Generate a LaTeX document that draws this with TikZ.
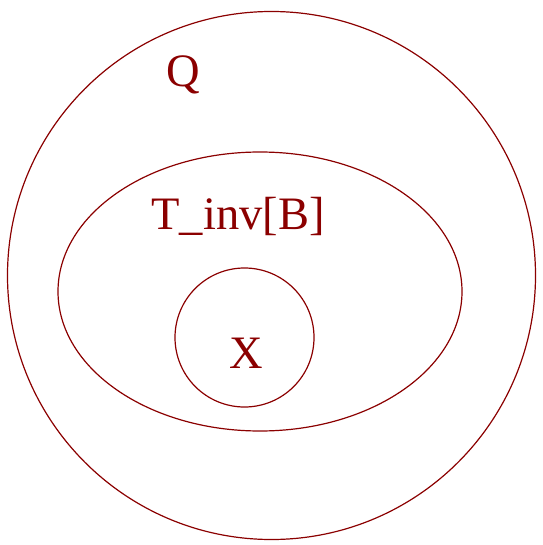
\documentclass[tikz,border=0pt]{standalone}
\usepackage{fontspec}
\setmainfont{Liberation Serif}
\usetikzlibrary{shapes.geometric}
\definecolor{dred}{HTML}{8B0000}
\begin{document}
\begin{tikzpicture}[x=1pt,y=-1pt,
  shp/.style={draw=dred,line width=1.2pt},
  lbl/.style={text=dred,font=\fontsize{46.5}{46.5}\selectfont,inner sep=0pt,anchor=base}]
\useasboundingbox (0,0) rectangle (542,545);
\node[shp,circle,minimum size=528pt,inner sep=0pt] (Q) at (271.5,275.5) {};
\node[shp,ellipse,minimum width=404pt,minimum height=279pt,inner sep=0pt] (T) at (260,291.5) {};
\node[shp,circle,minimum size=139pt,inner sep=0pt] (X) at (244.5,337.5) {};
\node[lbl] (lq) at (183,87) {Q};
\node[lbl] (lt) at (238,229) {T\_inv[B]};
\node[lbl] (lx) at (246,368) {X};
\end{tikzpicture}
\end{document}
